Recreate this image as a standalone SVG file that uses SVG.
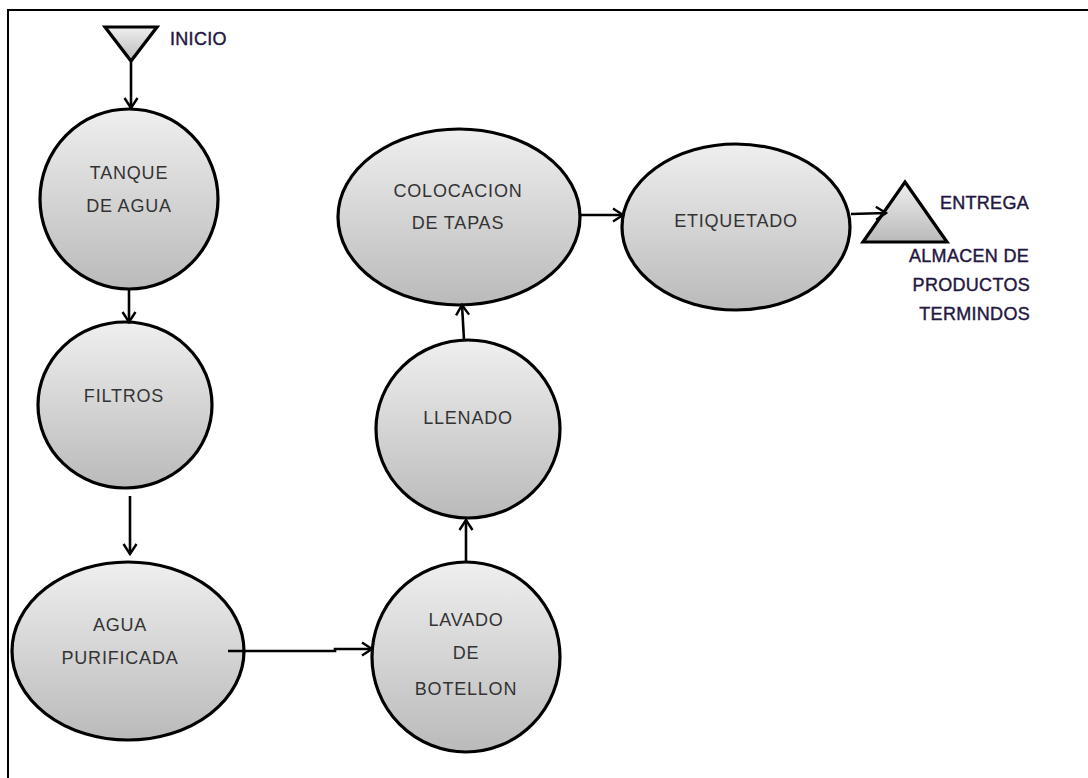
<svg xmlns="http://www.w3.org/2000/svg" width="1088" height="778" viewBox="0 0 1088 778">
<defs>
<linearGradient id="g" x1="0" y1="0" x2="0" y2="1">
<stop offset="0" stop-color="#efefef"/>
<stop offset="1" stop-color="#bababa"/>
</linearGradient>
<marker id="arr" markerWidth="16" markerHeight="16" refX="12" refY="8" orient="auto" markerUnits="userSpaceOnUse">
<path d="M2,1.5 L12,8 L2,14.5" fill="none" stroke="#000" stroke-width="2.4"/>
</marker>
<style>
.n{fill:url(#g);stroke:#000;stroke-width:3.2}
.t{font-family:"Liberation Sans",Arial,sans-serif;font-size:18px;fill:#333;letter-spacing:0.8px;text-anchor:middle}
.lb{font-family:"Liberation Sans",Arial,sans-serif;font-size:18px;fill:#231640;stroke:#231640;stroke-width:0.4;letter-spacing:0.3px}
.c{fill:none;stroke:#000;stroke-width:2.6;marker-end:url(#arr)}
</style>
</defs>
<rect width="1088" height="778" fill="#fff"/>
<path d="M8,778 L8,10 L1088,10" fill="none" stroke="#000" stroke-width="2"/>

<g id="inicio">
<polygon class="n" points="105,27 157,27 131,61"/>
<text class="lb" x="170" y="45">INICIO</text>
</g>

<g id="tanque">
<ellipse class="n" cx="129" cy="199" rx="89" ry="90"/>
<text class="t" x="129" y="179">TANQUE</text>
<text class="t" x="129" y="212">DE AGUA</text>
</g>

<g id="filtros">
<ellipse class="n" cx="125" cy="405" rx="87" ry="83"/>
<text class="t" x="124" y="402">FILTROS</text>
</g>

<g id="agua">
<ellipse class="n" cx="128" cy="651" rx="116" ry="89"/>
<text class="t" x="120" y="631">AGUA</text>
<text class="t" x="120" y="664">PURIFICADA</text>
</g>

<g id="lavado">
<ellipse class="n" cx="466" cy="657" rx="94" ry="95"/>
<text class="t" x="466" y="626">LAVADO</text>
<text class="t" x="466" y="659">DE</text>
<text class="t" x="466" y="695">BOTELLON</text>
</g>

<g id="llenado">
<ellipse class="n" cx="468" cy="429" rx="92" ry="89"/>
<text class="t" x="468" y="424">LLENADO</text>
</g>

<g id="colocacion">
<ellipse class="n" cx="459" cy="217" rx="121" ry="88"/>
<text class="t" x="458" y="197">COLOCACION</text>
<text class="t" x="458" y="229">DE TAPAS</text>
</g>

<g id="etiquetado">
<ellipse class="n" cx="736" cy="227" rx="114" ry="83"/>
<text class="t" x="736" y="227">ETIQUETADO</text>
</g>

<g id="entrega">
<polygon class="n" points="905,182 947,242 863,242"/>
<text class="lb" x="1029" y="209" text-anchor="end">ENTREGA</text>
<text class="lb" x="1029" y="262" text-anchor="end">ALMACEN DE</text>
<text class="lb" x="1030" y="291" text-anchor="end">PRODUCTOS</text>
<text class="lb" x="1030" y="320" text-anchor="end">TERMINDOS</text>
</g>

<g id="connectors">
<line class="c" x1="131" y1="62" x2="131" y2="108"/>
<line class="c" x1="129" y1="290" x2="129" y2="322"/>
<line class="c" x1="130" y1="496" x2="130" y2="554"/>
<polyline class="c" points="228,651 335,651 335,649 372,649"/>
<line class="c" x1="466" y1="562" x2="466" y2="520"/>
<line class="c" x1="464" y1="340" x2="462" y2="305"/>
<line class="c" x1="581" y1="215" x2="623" y2="215"/>
<line class="c" x1="851" y1="214" x2="886" y2="213"/>
</g>
</svg>
